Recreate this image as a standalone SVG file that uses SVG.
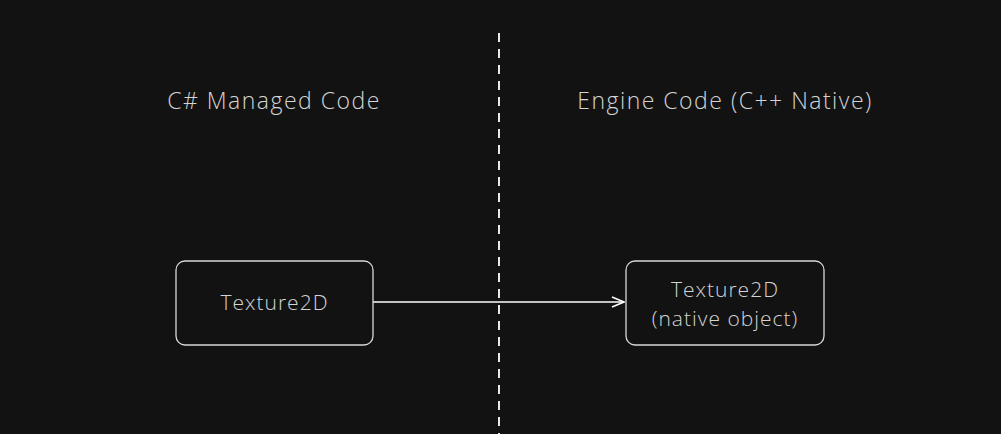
<svg xmlns="http://www.w3.org/2000/svg" width="1001" height="434" viewBox="0 0 1001 434">
<style>
.t{font-family:"Open Sans","Liberation Sans",sans-serif;font-weight:300;fill:#d4d4d4;text-anchor:middle}
.title{font-size:23px;letter-spacing:1.5px}
.lbl{font-size:21px;letter-spacing:1px}
.box{fill:#121212;stroke:#d8d8d8;stroke-width:1.3}
</style>
<defs>
<marker id="ah" markerWidth="14" markerHeight="12" refX="13" refY="6" orient="auto" markerUnits="userSpaceOnUse">
<path d="M1,1 L13,6 L1,11" fill="none" stroke="#ffffff" stroke-width="1.5"/>
</marker>
</defs>
<rect width="1001" height="434" fill="#121212"/>
<g id="divider">
<line x1="499" y1="33" x2="499" y2="434" stroke="#e8e8e8" stroke-width="2" stroke-dasharray="9 7"/>
</g>
<g id="title-left"><text class="t title" x="274" y="109">C# Managed Code</text></g>
<g id="title-right"><text class="t title" x="725" y="109">Engine Code (C++ Native)</text></g>
<g id="connectors">
<line x1="373" y1="302" x2="624" y2="302" stroke="#ffffff" stroke-width="1.6" marker-end="url(#ah)"/>
</g>
<g id="node-managed">
<rect class="box" x="176" y="261" width="197" height="84" rx="9"/>
<text class="t lbl" x="274.5" y="310">Texture2D</text>
</g>
<g id="node-native">
<rect class="box" x="626" y="261" width="198" height="84" rx="9"/>
<text class="t lbl" x="725" y="297">Texture2D</text>
<text class="t lbl" x="725" y="326">(native object)</text>
</g>
</svg>
